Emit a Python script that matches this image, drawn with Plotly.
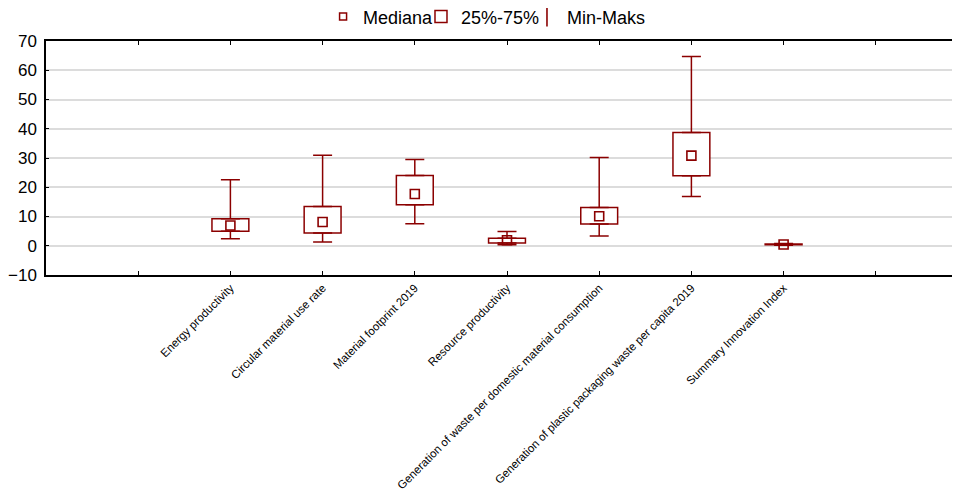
import plotly.graph_objects as go

categories = [
    "Energy productivity",
    "Circular material use rate",
    "Material footprint 2019",
    "Resource productivity",
    "Generation of waste per domestic material consumption",
    "Generation of plastic packaging waste per capita 2019",
    "Summary Innovation Index",
]
minimum = [2.4, 1.3, 7.5, 0.3, 3.3, 16.8, 0.2]
q1 = [5.0, 4.4, 14.0, 0.9, 7.4, 23.9, 0.35]
median = [6.9, 8.1, 17.7, 1.9, 10.1, 30.8, 0.45]
q3 = [9.2, 13.4, 24.0, 2.6, 13.1, 38.7, 0.6]
maximum = [22.6, 30.9, 29.5, 4.9, 30.2, 64.7, 0.75]

legend_names = ["Mediana", "25%-75%", "Min-Maks"]
y_ticks = [-10, 0, 10, 20, 30, 40, 50, 60, 70]

RED = "#8b0000"
FONT = "Arial, Liberation Sans, sans-serif"

pos = list(range(len(categories)))

fig = go.Figure()

# legend-only entry for medians
fig.add_trace(go.Scatter(
    x=[None], y=[None], mode="markers", name=legend_names[0], legend="legend",
    marker=dict(symbol="square-open", size=7, color=RED, line=dict(width=1.5, color=RED)),
))

# interquartile boxes
fig.add_trace(go.Bar(
    x=pos, y=[b - a for a, b in zip(q1, q3)], base=q1, width=0.4,
    name=legend_names[1], legend="legend2",
    marker=dict(color="white", line=dict(color=RED, width=1.5)),
))

# legend-only entry for whiskers
fig.add_trace(go.Scatter(
    x=[None], y=[None], mode="markers", name=legend_names[2], legend="legend3",
    marker=dict(symbol="line-ns-open", size=14, color=RED, line=dict(width=1.6, color=RED)),
))

# upper whiskers
fig.add_trace(go.Scatter(
    x=pos, y=q3, mode="markers", showlegend=False,
    marker=dict(size=0.1, opacity=0),
    error_y=dict(type="data", symmetric=False,
                 array=[b - a for a, b in zip(q3, maximum)],
                 arrayminus=[0] * len(pos),
                 color=RED, thickness=1.5, width=9.5),
))
# lower whiskers
fig.add_trace(go.Scatter(
    x=pos, y=q1, mode="markers", showlegend=False,
    marker=dict(size=0.1, opacity=0),
    error_y=dict(type="data", symmetric=False,
                 array=[0] * len(pos),
                 arrayminus=[a - b for a, b in zip(q1, minimum)],
                 color=RED, thickness=1.5, width=9.5),
))
# medians
fig.add_trace(go.Scatter(
    x=pos, y=median, mode="markers", showlegend=False,
    marker=dict(symbol="square-open", size=9, color=RED, line=dict(width=1.6, color=RED)),
))

tickvals = [-1] + pos + [len(pos)]
ticktext = [""] + categories + [""]


def legend_at(x):
    return dict(orientation="h", xref="container", yref="container",
                x=x, xanchor="left", y=0.982, yanchor="middle",
                font=dict(size=18, family=FONT), itemwidth=30,
                bgcolor="rgba(0,0,0,0)", borderwidth=0)


# page body adds an 8px offset; margins compensate for it
fig.update_layout(
    width=960, height=495,
    margin=dict(l=38, r=0, t=33, b=228, autoexpand=False),
    paper_bgcolor="white", plot_bgcolor="white",
    font=dict(family=FONT, color="black"),
    showlegend=True,
    legend=legend_at(0.3282),
    legend2=legend_at(0.4302),
    legend3=legend_at(0.5406),
    xaxis=dict(
        range=[-2, 8], tickmode="array", tickvals=tickvals, ticktext=ticktext,
        tickangle=-45, tickfont=dict(size=11.5, family=FONT),
        showgrid=False, zeroline=False,
        showline=True, linecolor="black", linewidth=1.5, mirror="ticks",
        ticks="inside", ticklen=4, tickcolor="black", tickwidth=1,
        automargin=False,
    ),
    yaxis=dict(
        range=[-10, 70], tickmode="array", tickvals=y_ticks,
        tickfont=dict(size=17, family=FONT), ticklabelstandoff=4,
        showgrid=True, gridcolor="#dcdcdc", gridwidth=1.5, zeroline=False,
        showline=True, linecolor="black", linewidth=1.5, mirror=False,
        ticks="inside", ticklen=3, tickcolor="black",
        automargin=False,
    ),
    barmode="overlay",
)

fig.write_html("out.html")
